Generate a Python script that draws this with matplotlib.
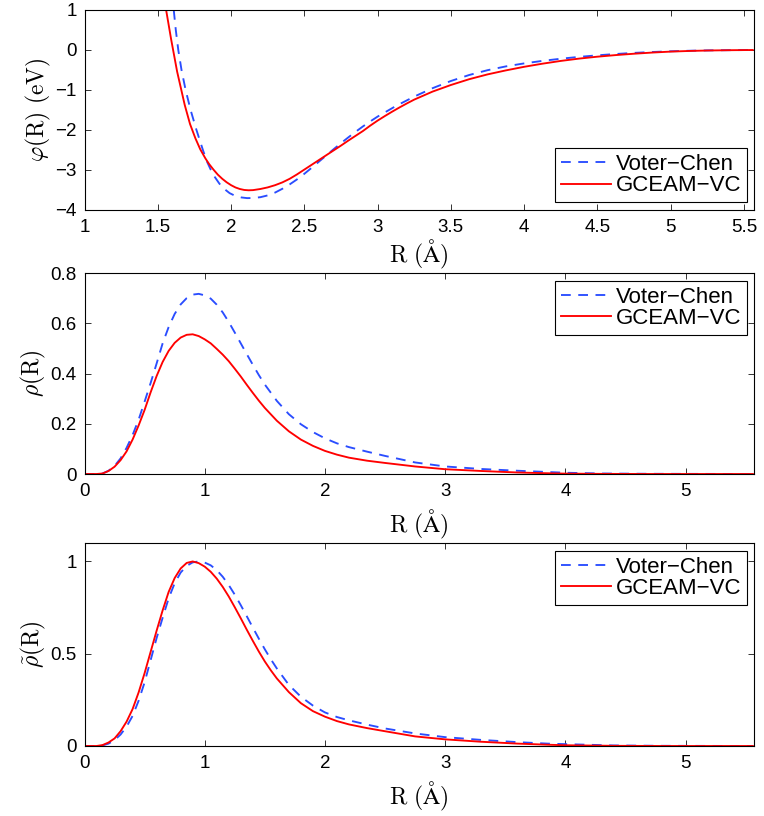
import matplotlib
matplotlib.use("Agg")
import matplotlib.pyplot as plt

plt.rcParams['font.family'] = ['Liberation Sans', 'DejaVu Sans']
plt.rcParams['mathtext.fontset'] = 'cm'

# ---------------- data ----------------
labels = ['Voter\u2212Chen', 'GCEAM\u2212VC']

# panel 1: pair potential phi(R) (eV)
phi_vc_r = [1.609, 1.623, 1.640, 1.662, 1.690, 1.724, 1.764, 1.808, 1.836, 1.86, 1.89,
            1.92, 1.95, 1.99, 2.03, 2.07, 2.11, 2.15, 2.2, 2.25, 2.3, 2.35, 2.4, 2.45,
            2.5, 2.55, 2.6, 2.65, 2.7, 2.75, 2.8, 2.85, 2.9, 2.95, 3.0, 3.125, 3.25,
            3.375, 3.5, 3.625, 3.75, 3.875, 4.0, 4.125, 4.25, 4.375, 4.5, 4.625, 4.75,
            4.875, 5.0, 5.125, 5.25, 5.4, 5.56]
phi_vc = [1.0, 0.5, 0.0, -0.5, -1.0, -1.5, -2.0, -2.5, -2.79, -2.982, -3.18,
          -3.339, -3.462, -3.578, -3.65, -3.686, -3.703, -3.70, -3.68, -3.635, -3.565,
          -3.47, -3.36, -3.235, -3.095, -2.945, -2.79, -2.635, -2.48, -2.33, -2.185,
          -2.045, -1.91, -1.785, -1.665, -1.40, -1.165, -0.955, -0.775, -0.625, -0.505,
          -0.41, -0.335, -0.272, -0.218, -0.172, -0.133, -0.10, -0.072, -0.05, -0.032,
          -0.019, -0.01, -0.004, 0.0]
phi_gc_r = [1.557, 1.591, 1.632, 1.684, 1.72, 1.757, 1.79, 1.825, 1.85, 1.88, 1.91,
            1.94, 1.97, 2.0, 2.03, 2.06, 2.09, 2.12, 2.15, 2.2, 2.25, 2.3, 2.35, 2.4,
            2.45, 2.5, 2.55, 2.6, 2.65, 2.7, 2.75, 2.8, 2.85, 2.9, 2.95, 3.0, 3.05, 3.1,
            3.15, 3.2, 3.25, 3.375, 3.5, 3.625, 3.75, 3.875, 4.0, 4.125, 4.25, 4.375,
            4.5, 4.625, 4.75, 4.875, 5.0, 5.125, 5.25, 5.4, 5.56]
phi_gc = [1.0, 0.27, -0.54, -1.375, -1.85, -2.21, -2.484, -2.71, -2.85, -2.99, -3.117,
          -3.22, -3.307, -3.379, -3.436, -3.475, -3.499, -3.507, -3.503, -3.475, -3.435,
          -3.38, -3.31, -3.22, -3.11, -2.99, -2.87, -2.75, -2.63, -2.51, -2.39, -2.265,
          -2.145, -2.025, -1.89, -1.765, -1.65, -1.54, -1.435, -1.335, -1.24, -1.04,
          -0.875, -0.73, -0.61, -0.51, -0.42, -0.342, -0.273, -0.215, -0.167, -0.127,
          -0.093, -0.064, -0.04, -0.024, -0.013, -0.005, 0.0]

# panel 2: rho(R)
rho_r = [0.0, 0.10, 0.15, 0.20, 0.25, 0.30, 0.35, 0.40, 0.45, 0.50, 0.55, 0.60, 0.65,
         0.70, 0.75, 0.80, 0.85, 0.90, 0.95, 1.00, 1.05, 1.10, 1.15, 1.20, 1.25, 1.30,
         1.35, 1.40, 1.45, 1.50, 1.60, 1.70, 1.80, 1.90, 2.00, 2.10, 2.20, 2.35, 2.50,
         2.75, 3.00, 3.30, 3.60, 3.85, 4.00, 4.30, 4.70, 5.56]
rho_vc = [0.0, 0.0, 0.002, 0.013, 0.032, 0.062, 0.104, 0.155, 0.216, 0.288, 0.362,
          0.440, 0.520, 0.585, 0.637, 0.675, 0.700, 0.714, 0.717, 0.711, 0.698, 0.674,
          0.643, 0.605, 0.563, 0.520, 0.477, 0.435, 0.394, 0.356, 0.291, 0.238, 0.198,
          0.167, 0.142, 0.122, 0.107, 0.089, 0.072, 0.046, 0.030, 0.020, 0.013, 0.008,
          0.005, 0.002, 0.0008, 0.0]
rho_gc = [0.0, 0.0, 0.002, 0.012, 0.029, 0.055, 0.090, 0.137, 0.193, 0.255, 0.325,
          0.390, 0.446, 0.490, 0.522, 0.543, 0.554, 0.556, 0.549, 0.536, 0.520, 0.498,
          0.475, 0.449, 0.419, 0.388, 0.355, 0.323, 0.292, 0.263, 0.212, 0.170, 0.137,
          0.112, 0.092, 0.077, 0.065, 0.053, 0.044, 0.030, 0.019, 0.012, 0.006, 0.003,
          0.0015, 0.0005, 0.0, 0.0]

# panel 3: normalised rho~(R)
rt_r = [0.0, 0.10, 0.15, 0.20, 0.25, 0.30, 0.35, 0.40, 0.45, 0.50, 0.55, 0.60, 0.65,
        0.70, 0.75, 0.80, 0.85, 0.90, 0.95, 1.00, 1.05, 1.10, 1.15, 1.20, 1.25, 1.30,
        1.35, 1.40, 1.45, 1.50, 1.55, 1.60, 1.70, 1.80, 1.90, 2.00, 2.10, 2.20, 2.35,
        2.50, 2.75, 3.00, 3.30, 3.60, 3.85, 4.00, 4.40, 4.80, 5.56]
rt_vc = [0.0, 0.0, 0.003, 0.013, 0.032, 0.062, 0.105, 0.163, 0.245, 0.345, 0.465,
         0.585, 0.695, 0.800, 0.882, 0.940, 0.976, 0.995, 1.0, 0.994, 0.979, 0.953,
         0.917, 0.872, 0.820, 0.763, 0.703, 0.642, 0.582, 0.524, 0.470, 0.420, 0.331,
         0.267, 0.219, 0.182, 0.157, 0.139, 0.116, 0.095, 0.068, 0.048, 0.033, 0.021,
         0.013, 0.010, 0.003, 0.001, 0.0]
rt_gc = [0.0, 0.0, 0.005, 0.019, 0.041, 0.080, 0.132, 0.200, 0.290, 0.395, 0.510,
         0.625, 0.735, 0.835, 0.910, 0.962, 0.992, 1.0, 0.991, 0.972, 0.944, 0.907,
         0.862, 0.810, 0.752, 0.692, 0.630, 0.570, 0.512, 0.458, 0.410, 0.366, 0.292,
         0.232, 0.189, 0.159, 0.135, 0.117, 0.097, 0.080, 0.052, 0.036, 0.023, 0.013,
         0.007, 0.004, 0.001, 0.0, 0.0]

xlabel = r'$\mathrm{R\ (\AA)}$'
ylabels = [r'$\varphi(\mathrm{R})\ (\mathrm{eV})$', r'$\rho(\mathrm{R})$',
           r'$\tilde{\rho}(\mathrm{R})$']
xticks1 = [1, 1.5, 2, 2.5, 3, 3.5, 4, 4.5, 5, 5.5]
xtick_labels1 = ['1', '1.5', '2', '2.5', '3', '3.5', '4', '4.5', '5', '5.5']
xticks23 = [0, 1, 2, 3, 4, 5]
yticks = [[-4, -3, -2, -1, 0, 1], [0, 0.2, 0.4, 0.6, 0.8], [0, 0.5, 1]]
ytick_labels = [['\u22124', '\u22123', '\u22122', '\u22121', '0', '1'],
                ['0', '0.2', '0.4', '0.6', '0.8'], ['0', '0.5', '1']]

# ---------------- figure ----------------
W, H = 764, 816
fig = plt.figure(figsize=(W / 100, H / 100), dpi=100)

def px_axes(top, bottom, left=84.5, right=753.5):
    return fig.add_axes([left / W, 1 - bottom / H, (right - left) / W, (bottom - top) / H])

axes = [px_axes(10, 210), px_axes(273, 474), px_axes(543, 746)]

blue = '#2a4dff'
red = '#ff0000'
lw = 1.35
dash = (5.2, 4.0)

series = [
    (phi_vc_r, phi_vc, phi_gc_r, phi_gc),
    (rho_r, rho_vc, rho_r, rho_gc),
    (rt_r, rt_vc, rt_r, rt_gc),
]
xlims = [(1, 5.565), (0, 5.565), (0, 5.565)]
ylims = [(-4, 1), (0, 0.8), (0, 1.1)]
legend_loc = ['lower right', 'upper right', 'upper right']
ylab_x = [-0.047, -0.055, -0.055]
xlab_y = [-0.14, -0.168, -0.165]

for i, ax in enumerate(axes):
    xr, yv, xg, yg = series[i]
    ax.plot(xr, yv, color=blue, lw=lw, dashes=dash, label=labels[0])
    ax.plot(xg, yg, color=red, lw=lw, label=labels[1])
    ax.set_xlim(*xlims[i])
    ax.set_ylim(*ylims[i])
    if i == 0:
        ax.set_xticks(xticks1)
        ax.set_xticklabels(xtick_labels1)
    else:
        ax.set_xticks(xticks23)
        ax.set_xticklabels([str(t) for t in xticks23])
    ax.set_yticks(yticks[i])
    ax.set_yticklabels(ytick_labels[i])
    ax.tick_params(direction='in', length=4.5, width=0.7, top=True, right=True,
                   labelsize=13.5, color='#333333')
    ax.tick_params(axis='x', pad=6.5)
    ax.tick_params(axis='y', pad=5.5)
    for s in ax.spines.values():
        s.set_linewidth(0.8)
        s.set_color('black')
    ax.set_xlabel(xlabel, fontsize=17)
    ax.set_ylabel(ylabels[i], fontsize=17)
    ax.yaxis.set_label_coords(ylab_x[i], 0.5)
    ax.xaxis.set_label_coords(0.5, xlab_y[i])
    if legend_loc[i] == 'lower right':
        anchor = (1 - 7 / 669, 8 / 200)
    else:
        anchor = (1 - 7 / 669, 1 - 8 / 201)
    leg = ax.legend(loc=legend_loc[i], bbox_to_anchor=anchor, fontsize=16,
                    frameon=True, fancybox=False, framealpha=1, edgecolor='black',
                    handlelength=2.25, handletextpad=0.2, borderpad=0.25,
                    labelspacing=0.02, borderaxespad=0)
    leg.get_frame().set_linewidth(0.8)

fig.savefig('out.png', dpi=100)
